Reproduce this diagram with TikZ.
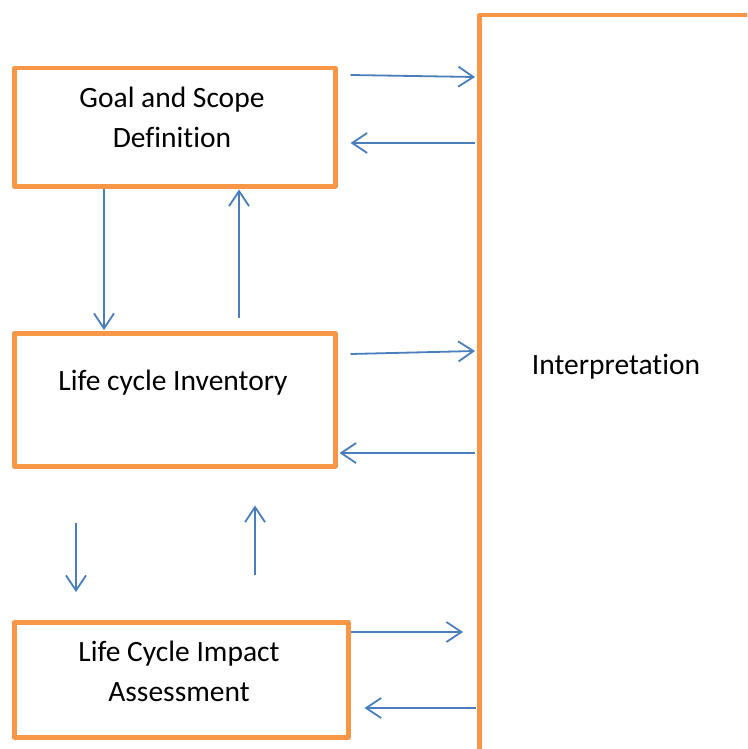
\documentclass[tikz,border=0pt]{standalone}
\usepackage{fontspec}
\setmainfont[Ligatures=NoCommon]{Carlito}
\usetikzlibrary{arrows.meta,calc}
\definecolor{boxorange}{HTML}{F79646}
\definecolor{flowblue}{HTML}{4A7EBB}
\begin{document}
\begin{tikzpicture}[x=1pt,y=-1pt,
  stagebox/.style={draw=boxorange,line width=4.5pt,line join=round,rectangle,inner sep=0pt,anchor=north west},
  label/.style={font=\fontsize{29.5}{40}\selectfont,align=center,inner sep=0pt},
  flow/.style={draw=flowblue,line width=1.8pt,-{Straight Barb[length=15pt,width=20pt,line width=1.8pt]}}]
  \useasboundingbox (0,0) rectangle (747,749);
  \clip (0,0) rectangle (747,749);

  % stage boxes
  \node[stagebox,minimum width=321pt,minimum height=118pt] (goal) at (12,66) {};
  \node[stagebox,minimum width=321pt,minimum height=133pt] (lci) at (12,331) {};
  \node[stagebox,minimum width=334pt,minimum height=115pt] (lcia) at (12,620) {};
  \node[stagebox,minimum width=320pt,minimum height=770pt] (interp) at (477,13) {};

  % box texts
  \node[label] (goaltxt) at (172,117) {Goal and Scope\\Definition};
  \node[label] (lcitxt) at (173,383) {Life cycle Inventory};
  \node[label] (lciatxt) at (179,671) {Life Cycle Impact\\Assessment};
  \node[label] (interptxt) at (616,367) {Interpretation};

  % exchanges with the interpretation phase
  \draw[flow] ($(goal.north east)+(13,9)$) -- ($(interp.north west)+(-2,64)$);
  \draw[flow] ($(interp.north west)+(-2,130)$) -- ($(goal.north east)+(13,77)$);
  \draw[flow] ($(lci.north east)+(13,23)$) -- ($(interp.north west)+(-2,338)$);
  \draw[flow] ($(interp.north west)+(-2,440)$) -- ($(lci.north east)+(2,122)$);
  \draw[flow] ($(lcia.north east)+(0,12)$) -- ($(interp.north west)+(-14,619)$);
  \draw[flow] ($(interp.north west)+(-1,695)$) -- ($(lcia.north east)+(14,88)$);

  % iterations between the stages
  \draw[flow] ($(goal.south west)+(92,0)$) -- ($(lci.north west)+(92,-1)$);
  \draw[flow] ($(lci.north west)+(227,-13)$) -- ($(goal.south west)+(227,1)$);
  \draw[flow] ($(lci.south west)+(64,54)$) -- ($(lcia.north west)+(64,-28)$);
  \draw[flow] ($(lcia.north west)+(243,-45)$) -- ($(lci.south west)+(243,37)$);
\end{tikzpicture}
\end{document}
